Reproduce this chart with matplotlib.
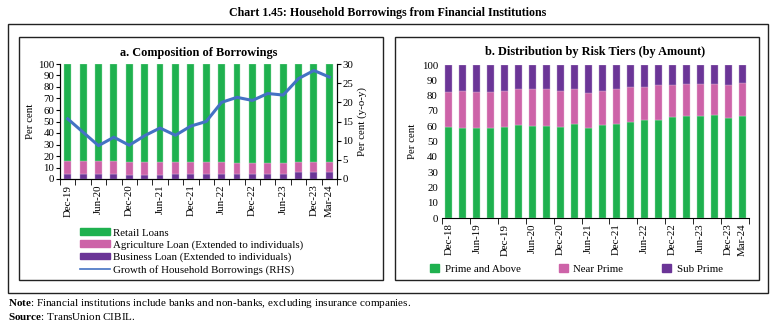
import numpy as np
import matplotlib
matplotlib.use('Agg')
import matplotlib.pyplot as plt
from matplotlib.patches import Rectangle, Patch
from matplotlib.lines import Line2D

plt.rcParams['font.family'] = ['Liberation Serif', 'DejaVu Serif']
plt.rcParams['mathtext.fontset'] = 'custom'
plt.rcParams['mathtext.bf'] = 'Liberation Serif:bold'
plt.rcParams['mathtext.rm'] = 'Liberation Serif'

# Панель a: структура заимствований (поквартально, Dec-19 .. Mar-24)
quarters_a = ['Dec-19', 'Mar-20', 'Jun-20', 'Sep-20', 'Dec-20', 'Mar-21', 'Jun-21', 'Sep-21',
              'Dec-21', 'Mar-22', 'Jun-22', 'Sep-22', 'Dec-22', 'Mar-23', 'Jun-23', 'Sep-23',
              'Dec-23', 'Mar-24']
business = [4, 4, 4, 4, 3.5, 3.5, 3.5, 4, 4, 4, 4, 4, 4, 4, 4, 6, 6, 6]
agri_top = [15.5, 15.5, 15.5, 15.5, 14.5, 14.5, 14.5, 15, 14.5, 14.5, 14.5, 14, 13.5, 14, 13.5, 15, 14.5, 14.5]
agri = [t - b for t, b in zip(agri_top, business)]
retail = [100 - t for t in agri_top]
growth = [15.7, 12.2, 8.7, 10.9, 8.8, 11.3, 13.3, 11.4, 13.8, 15.0, 20.0, 21.3, 20.5, 22.3,
          21.9, 26.2, 28.3, 26.6]

# Панель b: распределение по категориям риска
quarters_b = ['Dec-18', 'Mar-19', 'Jun-19', 'Sep-19', 'Dec-19', 'Mar-20', 'Jun-20', 'Sep-20',
              'Dec-20', 'Mar-21', 'Jun-21', 'Sep-21', 'Dec-21', 'Mar-22', 'Jun-22', 'Sep-22',
              'Dec-22', 'Mar-23', 'Jun-23', 'Sep-23', 'Dec-23', 'Mar-24']
prime = [59.8, 58.7, 58.9, 58.9, 59.8, 60.7, 60.2, 60.2, 59.8, 61.3, 58.9, 61.0, 61.5, 62.9,
         63.8, 64.2, 65.8, 66.5, 66.9, 67.3, 65.6, 66.7]
near_top = [82.5, 83.0, 82.5, 82.3, 83.0, 84.1, 84.1, 84.1, 83.2, 84.1, 81.9, 83.2, 84.1, 85.4,
            85.9, 87.0, 87.0, 87.8, 87.8, 87.8, 87.0, 88.0]
near = [t - p for t, p in zip(near_top, prime)]
sub = [100 - t for t in near_top]

green = '#1fb14f'
pink = '#cd63a8'
purple = '#6b3597'
blue = '#4472c4'

W, H = 776, 329
fig = plt.figure(figsize=(W / 100, H / 100), dpi=100)


def box(x0, y0, x1, y1):
    fig.patches.append(Rectangle((x0 / W, 1 - y1 / H), (x1 - x0) / W, (y1 - y0) / H,
                                 transform=fig.transFigure, fill=False,
                                 edgecolor='#222222', linewidth=1.0))


box(8, 24, 768, 293)
box(19, 37, 383, 280)
box(395, 37, 759, 280)

fig.text(0.5, 1 - 13 / H, 'Chart 1.45: Household Borrowings from Financial Institutions',
         ha='center', va='center', fontsize=8.6, fontweight='bold')

fs = 7.8

# ---- Панель a ----
ax1 = fig.add_axes([60 / W, 1 - 179 / H, 277 / W, 115 / H])
x = np.arange(len(quarters_a))
bw = 0.45
ax1.bar(x, business, bw, color=purple, edgecolor='#b9a0d0', linewidth=0.3)
ax1.bar(x, agri, bw, bottom=business, color=pink, edgecolor='#e8b5d6', linewidth=0.3)
ax1.bar(x, retail, bw, bottom=agri_top, color=green, edgecolor='#9be0ae', linewidth=0.3)
ax1.set_xlim(-0.5, len(x) - 0.5)
ax1.set_ylim(0, 100)
ax1.set_yticks(range(0, 101, 10))
ax1.set_ylabel('Per cent', fontsize=fs, labelpad=2)
ax1.spines['top'].set_visible(False)
lab_a = [0, 2, 4, 6, 8, 10, 12, 14, 16, 17]
ax1.set_xticks(lab_a)
ax1.set_xticklabels([quarters_a[i] for i in lab_a], rotation=90)
ax1.set_xticks(np.arange(-0.5, len(x), 1), minor=True)
ax1.tick_params(axis='x', which='major', length=0, labelsize=fs, pad=4)
ax1.tick_params(axis='x', which='minor', length=4)
ax1.tick_params(axis='y', labelsize=fs, length=3, pad=1)
ax1.set_title('a. Composition of Borrowings', fontsize=8.8, fontweight='bold', pad=6)

ax2 = ax1.twinx()
ax2.plot(x, growth, color=blue, linewidth=2.2)
ax2.set_ylim(0, 30)
ax2.set_yticks(range(0, 31, 5))
ax2.tick_params(axis='y', labelsize=fs, length=3, pad=1)
ax2.set_ylabel('Per cent (y-o-y)', fontsize=fs, labelpad=3)
ax2.spines['top'].set_visible(False)

handles_a = [Patch(color=green), Patch(color=pink), Patch(color=purple),
             Line2D([0], [0], color=blue, linewidth=1.2)]
labels_a = ['Retail Loans', 'Agriculture Loan (Extended to individuals)',
            'Business Loan (Extended to individuals)', 'Growth of Household Borrowings (RHS)']
fig.legend(handles_a, labels_a, loc='upper left', bbox_to_anchor=(75 / W, 1 - 223 / H),
           frameon=False, fontsize=fs, handlelength=2.7, handleheight=0.55,
           labelspacing=0.25, handletextpad=0.35, borderpad=0)

# ---- Панель b ----
ax3 = fig.add_axes([442 / W, 1 - 218 / H, 307 / W, 153 / H])
xb = np.arange(len(quarters_b))
bw2 = 0.5
ax3.bar(xb, prime, bw2, color=green, edgecolor='#9be0ae', linewidth=0.3)
ax3.bar(xb, near, bw2, bottom=prime, color=pink, edgecolor='#e8b5d6', linewidth=0.3)
ax3.bar(xb, sub, bw2, bottom=near_top, color=purple, edgecolor='#b9a0d0', linewidth=0.3)
ax3.set_xlim(-0.5, len(xb) - 0.5)
ax3.set_ylim(0, 100)
ax3.set_yticks(range(0, 101, 10))
ax3.set_ylabel('Per cent', fontsize=fs, labelpad=3)
for s in ['top', 'right', 'left']:
    ax3.spines[s].set_visible(False)
lab_b = list(range(0, 22, 2)) + [21]
ax3.set_xticks(lab_b)
ax3.set_xticklabels([quarters_b[i] for i in lab_b], rotation=90)
ax3.set_xticks(list(np.arange(-0.5, 21, 2)) + [21.5], minor=True)
ax3.tick_params(axis='x', which='major', length=0, labelsize=fs, pad=4)
ax3.tick_params(axis='x', which='minor', length=4)
ax3.tick_params(axis='y', labelsize=fs, length=0, pad=3)
ax3.set_title('b. Distribution by Risk Tiers (by Amount)', fontsize=8.8, fontweight='bold', pad=7)

handles_b = [Patch(color=green), Patch(color=pink), Patch(color=purple)]
fig.legend(handles_b, ['Prime and Above', 'Near Prime', 'Sub Prime'], loc='center left',
           bbox_to_anchor=(425 / W, 1 - 269 / H), ncol=3, frameon=False, fontsize=fs,
           handlelength=0.8, handleheight=0.8, handletextpad=0.5, columnspacing=3.6,
           borderpad=0)

fig.text(8 / W, 1 - 304 / H, r'$\bf{Note}$: Financial institutions include banks and non-banks, '
         'excluding insurance companies.', fontsize=8, va='center')
fig.text(8 / W, 1 - 317 / H, r'$\bf{Source}$: TransUnion CIBIL.', fontsize=8, va='center')

fig.savefig('out.png', dpi=100)
